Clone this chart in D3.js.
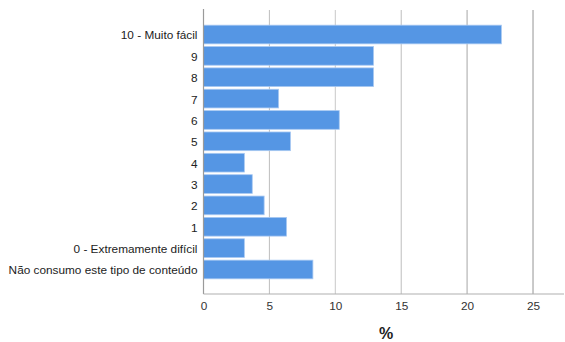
<!DOCTYPE html>
<html>
<head>
<meta charset="utf-8">
<script src="https://cdn.jsdelivr.net/npm/d3@7"></script>
<style>
  html, body { margin: 0; padding: 0; background: #fff; }
  svg { display: block; font-family: "Liberation Sans", Arial, sans-serif; }
</style>
</head>
<body>
<svg id="chart" width="565" height="342"></svg>
<script>
// Answer categories, top to bottom
const categories = [
  "10 - Muito fácil", "9", "8", "7", "6", "5", "4", "3", "2", "1",
  "0 - Extremamente difícil", "Não consumo este tipo de conteúdo"
];
// Share of respondents (%)
const values = [22.6, 12.9, 12.9, 5.7, 10.3, 6.6, 3.1, 3.7, 4.6, 6.3, 3.1, 8.3];
const xTicks = [0, 5, 10, 15, 20, 25];
const xTitle = "%";

const svg = d3.select("#chart");
const plotLeft = 203.5, plotRight = 564, plotTop = 10, plotBottom = 294;

const x = d3.scaleLinear().domain([0, 27.35]).range([plotLeft, plotRight]);
const y = d3.scaleBand().domain(categories).range([plotTop, plotBottom])
  .paddingInner(0.125).paddingOuter(0.71);

// Vertical gridlines
svg.append("g").selectAll("line").data(xTicks.filter(d => d > 0)).join("line")
  .attr("x1", d => x(d)).attr("x2", d => x(d))
  .attr("y1", plotTop).attr("y2", plotBottom)
  .attr("stroke", d => d % 10 === 0 ? "#c8c8c8" : "#bdbdbd")
  .attr("stroke-width", d => d >= 20 ? 1.6 : 1);

// Bars
svg.append("g").selectAll("rect").data(values).join("rect")
  .attr("x", x(0))
  .attr("y", (d, i) => y(categories[i]))
  .attr("width", d => x(d) - x(0))
  .attr("height", y.bandwidth())
  .attr("fill", "#5596e4")
  .attr("stroke", "#a9c9f2")
  .attr("stroke-width", 0.8);

// Axis lines
svg.append("line").attr("x1", plotLeft).attr("x2", plotLeft).attr("y1", plotTop - 1).attr("y2", plotBottom)
  .attr("stroke", "#9a9a9a").attr("stroke-width", 1.2);
svg.append("line").attr("x1", plotLeft).attr("x2", plotRight).attr("y1", plotBottom).attr("y2", plotBottom)
  .attr("stroke", "#b0b0b0").attr("stroke-width", 1.2);

// Category labels
const yAxis = d3.axisLeft(y).tickSize(0).tickPadding(6);
svg.append("g").attr("transform", `translate(${plotLeft},0)`).call(yAxis)
  .call(g => g.select(".domain").remove())
  .selectAll("text")
  .attr("dy", "0.42em")
  .attr("font-size", 11.8).attr("fill", "#222")
  .attr("font-family", "'Liberation Sans', Arial, sans-serif");

// Value axis labels
const xAxis = d3.axisBottom(x).tickValues(xTicks).tickSize(0).tickPadding(8);
svg.append("g").attr("transform", `translate(0,${plotBottom})`).call(xAxis)
  .call(g => g.select(".domain").remove())
  .selectAll("text")
  .attr("font-size", 11.8).attr("fill", "#333")
  .attr("font-family", "'Liberation Sans', Arial, sans-serif");

// Axis title
svg.append("text").attr("x", 386).attr("y", 339).attr("text-anchor", "middle")
  .attr("font-size", 16).attr("font-weight", "bold").attr("fill", "#222")
  .text(xTitle);
</script>
</body>
</html>
